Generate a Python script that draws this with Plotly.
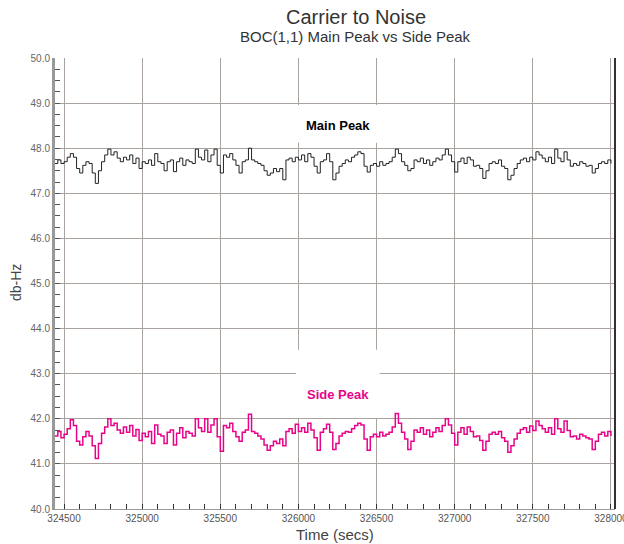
import plotly.graph_objects as go

main_peak = [
    47.66, 47.74, 47.66, 47.70, 47.80, 47.88, 47.80, 47.55, 47.45, 47.62,
    47.70, 47.66, 47.45, 47.22, 47.50, 47.70, 47.85, 47.98, 47.85, 47.92,
    47.78, 47.70, 47.80, 47.74, 47.85, 47.66, 47.78, 47.55, 47.70, 47.66,
    47.74, 47.62, 47.88, 47.70, 47.66, 47.50, 47.70, 47.74, 47.48, 47.70,
    47.78, 47.62, 47.74, 47.70, 47.66, 47.98, 47.80, 47.74, 47.96, 47.70,
    47.85, 47.98, 47.62, 47.45, 47.85, 47.80, 47.88, 47.74, 47.62, 47.45,
    47.70, 47.74, 48.00, 47.74, 47.70, 47.66, 47.62, 47.50, 47.40, 47.45,
    47.55, 47.48, 47.55, 47.30, 47.74, 47.78, 47.70, 47.80, 47.74, 47.85,
    47.70, 47.88, 47.80, 47.60, 47.45, 47.70, 47.74, 47.88, 47.70, 47.30,
    47.45, 47.60, 47.66, 47.74, 47.70, 47.80, 47.85, 47.92, 47.88, 47.60,
    47.47, 47.62, 47.66, 47.60, 47.70, 47.62, 47.66, 47.70, 47.80, 47.98,
    47.88, 47.70, 47.62, 47.50, 47.55, 47.74, 47.70, 47.78, 47.66, 47.74,
    47.62, 47.70, 47.78, 47.74, 47.85, 47.98, 47.85, 47.70, 47.47, 47.70,
    47.78, 47.66, 47.80, 47.74, 47.60, 47.62, 47.55, 47.33, 47.50, 47.66,
    47.70, 47.66, 47.74, 47.60, 47.55, 47.30, 47.40, 47.55, 47.66, 47.74,
    47.78, 47.70, 47.80, 47.74, 47.92, 47.85, 47.78, 47.70, 47.80, 47.66,
    47.98, 47.78, 47.70, 47.92, 47.74, 47.60, 47.66, 47.62, 47.70, 47.66,
    47.60, 47.62, 47.45, 47.55, 47.66, 47.70, 47.66, 47.74, 47.66,
]

side_peak = [
    41.62, 41.72, 41.58, 41.66, 41.78, 41.98, 41.85, 41.50, 41.42, 41.60,
    41.72, 41.62, 41.40, 41.12, 41.45, 41.68, 41.82, 42.00, 41.85, 41.90,
    41.75, 41.68, 41.82, 41.70, 41.85, 41.62, 41.76, 41.52, 41.68, 41.60,
    41.72, 41.45, 41.86, 41.66, 41.62, 41.45, 41.70, 41.75, 41.42, 41.68,
    41.80, 41.58, 41.72, 41.68, 41.62, 42.00, 41.80, 41.72, 42.00, 41.70,
    41.86, 42.00, 41.60, 41.28, 41.85, 41.80, 41.90, 41.72, 41.60, 41.50,
    41.70, 41.75, 42.10, 41.72, 41.68, 41.62, 41.55, 41.42, 41.30, 41.40,
    41.50, 41.45, 41.55, 41.40, 41.72, 41.78, 41.68, 41.88, 41.72, 41.80,
    41.70, 41.90, 41.75, 41.58, 41.30, 41.70, 41.78, 41.88, 41.70, 41.32,
    41.45, 41.62, 41.68, 41.72, 41.70, 41.78, 41.85, 41.90, 41.86, 41.55,
    41.30, 41.60, 41.66, 41.60, 41.70, 41.62, 41.66, 41.70, 41.82, 42.12,
    41.90, 41.70, 41.55, 41.32, 41.50, 41.75, 41.70, 41.80, 41.66, 41.75,
    41.60, 41.70, 41.80, 41.72, 41.85, 42.00, 41.86, 41.68, 41.42, 41.70,
    41.80, 41.66, 41.82, 41.72, 41.60, 41.62, 41.52, 41.30, 41.50, 41.66,
    41.70, 41.66, 41.72, 41.58, 41.50, 41.26, 41.40, 41.55, 41.68, 41.76,
    41.80, 41.70, 41.84, 41.74, 41.95, 41.85, 41.78, 41.70, 41.80, 41.66,
    42.00, 41.78, 41.70, 41.95, 41.74, 41.60, 41.62, 41.55, 41.66, 41.62,
    41.58, 41.55, 41.32, 41.50, 41.66, 41.70, 41.62, 41.72, 41.62,
]

t_start = 324440
t_step = 20
main_time = [t_start + t_step * i for i in range(len(main_peak))]
side_time = [t_start + t_step * i for i in range(len(side_peak))]

FONT = "Liberation Sans, Arial, sans-serif"
GRID = "#aaa29e"

fig = go.Figure()
fig.add_trace(go.Scatter(x=main_time, y=main_peak, mode="lines", line_shape="hv",
                         line=dict(color="#222222", width=1), name="Main Peak",
                         showlegend=False))
fig.add_trace(go.Scatter(x=side_time, y=side_peak, mode="lines", line_shape="hv",
                         line=dict(color="#e8048a", width=1.5), name="Side Peak",
                         showlegend=False))

# white boxes behind the labels (cover gridlines, below the data)
for y0, y1 in [(48.12, 48.96), (42.02, 43.53)]:
    fig.add_shape(type="rect", xref="x", yref="y", x0=325985, x1=326520, y0=y0, y1=y1,
                  fillcolor="white", line=dict(width=0), layer="between")

# right border
fig.add_shape(type="line", xref="paper", yref="paper", x0=1, x1=1, y0=0, y1=1,
              line=dict(color="#333333", width=2))

fig.add_annotation(x=326250, y=48.51, xref="x", yref="y", text="<b>Main Peak</b>",
                   showarrow=False, font=dict(family=FONT, size=13, color="#000000"))
fig.add_annotation(x=326250, y=42.53, xref="x", yref="y", text="<b>Side Peak</b>",
                   showarrow=False, font=dict(family=FONT, size=13, color="#e8048a"))

W, H = 624, 544
L, R, T, B = 55, 9, 58, 35
plot_w = W - L - R
plot_h = H - T - B

def px_x(x):
    return (x - L) / plot_w

def px_y(y):
    return 1 + (T - y) / plot_h

# titles
fig.add_annotation(x=px_x(356), y=px_y(17), xref="paper", yref="paper", yanchor="middle",
                   text="Carrier to Noise", showarrow=False,
                   font=dict(family=FONT, size=20, color="#333333"))
fig.add_annotation(x=px_x(355), y=px_y(37), xref="paper", yref="paper", yanchor="middle",
                   text="BOC(1,1) Main Peak vs Side Peak", showarrow=False,
                   font=dict(family=FONT, size=15, color="#333333"))
fig.add_annotation(x=px_x(335), y=px_y(534), xref="paper", yref="paper", yanchor="middle",
                   text="Time (secs)", showarrow=False,
                   font=dict(family=FONT, size=15, color="#444444"))
fig.add_annotation(x=px_x(16), y=px_y(283), xref="paper", yref="paper", yanchor="middle",
                   xanchor="center", text="db-Hz", textangle=-90, showarrow=False,
                   font=dict(family=FONT, size=14, color="#444444"))

fig.update_layout(
    width=W, height=H,
    margin=dict(l=L, r=R, t=T, b=B, autoexpand=False),
    paper_bgcolor="white", plot_bgcolor="white",
    font=dict(family=FONT, color="#555555"),
    xaxis=dict(
        range=[324442, 328026], tick0=324500, dtick=500, tickformat="d",
        showgrid=True, gridcolor=GRID, gridwidth=1,
        ticks="inside", ticklen=5, tickcolor="#333333",
        minor=dict(dtick=100, tick0=324500, ticks="inside", ticklen=5,
                   tickcolor="#333333", showgrid=False),
        showline=True, linecolor="#999999", linewidth=1,
        tickfont=dict(family=FONT, size=10, color="#555555"),
        ticklabeloverflow="allow", automargin=False,
        zeroline=False,
    ),
    yaxis=dict(
        range=[40, 50], dtick=1, tickformat=".1f",
        showgrid=True, gridcolor=GRID, gridwidth=1,
        ticks="inside", ticklen=5, tickcolor="#555555",
        minor=dict(dtick=0.25, ticks="inside", ticklen=5, tickcolor="#555555",
                   showgrid=False),
        showline=True, linecolor="#999999", linewidth=3,
        tickfont=dict(family=FONT, size=10, color="#666666"),
        automargin=False,
        zeroline=False,
    ),
)

# remove the default page margin so the 624x544 figure fills the window exactly
fig.write_html("out.html",
               config={"displayModeBar": False},
               post_script="document.body.style.margin='0px';document.body.style.overflow='hidden';")
